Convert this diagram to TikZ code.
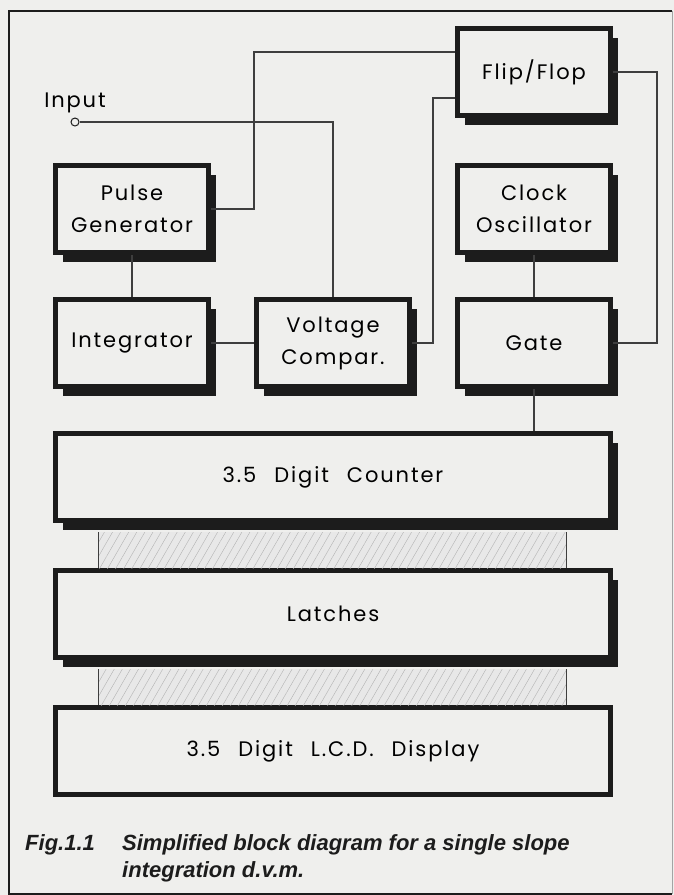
\documentclass[tikz,border=0pt]{standalone}
\usepackage{fontspec}
\setmainfont{Poppins}[LetterSpace=9, WordSpace=2.4]
\newfontfamily\capfont{Liberation Sans}
\usetikzlibrary{positioning,shadows,patterns.meta}
\definecolor{paper}{RGB}{239,239,237}
\definecolor{ink}{RGB}{28,28,28}

\begin{document}
\begin{tikzpicture}[x=1pt, y=-1pt, font=\fontsize{21}{32}\selectfont,
  panel/.style={draw=ink, line width=5pt, fill=paper, align=center, minimum width=153pt, minimum height=87pt, inner sep=2pt},
  box/.style={panel, drop shadow={shadow xshift=7pt, shadow yshift=-9pt, fill=ink, opacity=1}},
  wide/.style={minimum width=555pt},
  wire/.style={draw=ink!85, line width=1.3pt},
  hatch/.style={fill=black!9, postaction={pattern={Lines[angle=60, distance=7pt, line width=.4pt]}, pattern color=black!30}},
  caption/.style={font=\fontsize{22}{27}\capfont\bfseries\itshape, text=ink, inner sep=0pt}]
\useasboundingbox (0,0) rectangle (674,895);
\fill[paper] (0,0) rectangle (674,895);
\draw[ink, line width=2.5pt] (672,11) -- (9,11) -- (9,894) -- (672,894);
\draw[ink!40, line width=.8pt] (672,11) -- (672,894);
\node[box] (pg) at (132,209) {Pulse\\Generator};
\node[box, below=42pt of pg] (integ) {Integrator};
\node[box, right=43pt of integ] (volt) {Voltage\\Compar.};
\node[box, right=43pt of volt] (gate) {Gate};
\node[box, above=42pt of gate] (clock) {Clock\\Oscillator};
\node[box, above=45pt of clock] (flip) {Flip/Flop};
\node[box, wide, below=42pt of volt] (count) {3.5 Digit Counter};
\node[box, wide, below=45pt of count] (latch) {Latches};
\node[panel, wide, below=45pt of latch] (lcd) {3.5 Digit L.C.D. Display};
\node[circle, draw=ink, line width=1pt, fill=paper, inner sep=0pt, minimum size=8pt] (inp) at (75,122) {};
\node[above=1pt of inp] (inlbl) {Input};
\draw[wire] (inp) -| (volt);
\draw[wire] (pg.east) -- ++(43,0) |- ([yshift=20pt]flip.west);
\draw[wire] (volt.east) -- ++(21,0) |- ([yshift=-26pt]flip.west);
\draw[wire] (flip.east) -- ++(44,0) |- (gate.east);
\draw[wire] (pg) -- (integ);
\draw[wire] (integ) -- (volt);
\draw[wire] (clock) -- (gate);
\draw[wire] (gate) -- (gate |- count.north);
\path (count.south west) ++(45,9) coordinate (s1) (latch.north east) ++(-47,0) coordinate (s2);
\path (latch.south west) ++(45,9) coordinate (s3) (lcd.north east) ++(-47,0) coordinate (s4);
\fill[hatch] (s1) rectangle (s2);
\fill[hatch] (s3) rectangle (s4);
\draw[wire, line width=1pt] (s1) -- (s1 |- s2) (s2) -- (s2 |- s1) (s3) -- (s3 |- s4) (s4) -- (s4 |- s3);
\node[caption, anchor=base west] (fig) at (25,850) {Fig.1.1};
\node[caption, anchor=base west, align=left] (capt) at (122,877) {Simplified block diagram for a single slope\\integration d.v.m.};
\end{tikzpicture}
\end{document}
